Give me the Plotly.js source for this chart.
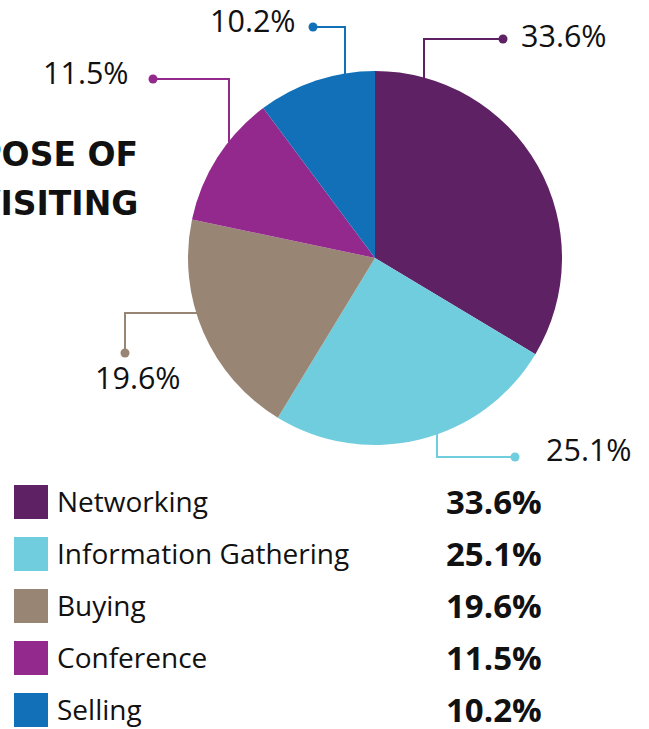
<!DOCTYPE html>
<html>
<head>
<meta charset="utf-8">
<script src="https://cdn.plot.ly/plotly-3.0.1.min.js"></script>
<style>html,body{margin:0;padding:0;background:#fff;}#chart{width:649px;height:729px;}</style>
</head>
<body>
<div id="chart"></div>
<script>
// ---- data ----
const categories = ["Networking", "Information Gathering", "Buying", "Conference", "Selling"];
const values = [33.6, 25.1, 19.6, 11.5, 10.2];
const colors = ["#5e2163", "#6fcddd", "#998574", "#93298d", "#1170b8"];
const titleLines = ["PURPOSE OF", "VISITING"];

// ---- layout helpers (pixel -> paper) ----
const W = 649, H = 729;
const px = x => x / W;
const py = y => 1 - y / H;

// pie geometry
const cx = 375, cy = 258, R = 187;

// leader-line routes (pixels) and label anchor placement, one per category
const leaders = [
  {path: [[424, 80], [424, 39], [503, 39]], label: [519, 35], anchor: "left"},
  {path: [[437, 433], [437, 457], [515, 457]], label: [544, 449], anchor: "left"},
  {path: [[197, 313], [125, 313], [125, 353]], label: [138, 377], anchor: "center"},
  {path: [[229, 142], [229, 79], [153, 79]], label: [131, 72], anchor: "right"},
  {path: [[345, 74], [345, 27], [313, 27]], label: [298, 20], anchor: "right"}
];

const fontFam = "'Open Sans', 'Noto Sans', sans-serif";
const shapes = [];
const annotations = [];

leaders.forEach((l, i) => {
  const d = l.path.map((p, j) => (j ? "L" : "M") + px(p[0]) + "," + py(p[1])).join(" ");
  shapes.push({type: "path", xref: "paper", yref: "paper", path: d,
    line: {color: colors[i], width: 2}});
  const e = l.path[l.path.length - 1], r = 4.5;
  shapes.push({type: "circle", xref: "paper", yref: "paper",
    x0: px(e[0] - r), x1: px(e[0] + r), y0: py(e[1] + r), y1: py(e[1] - r),
    fillcolor: colors[i], line: {width: 0}});
  annotations.push({xref: "paper", yref: "paper", x: px(l.label[0]), y: py(l.label[1]),
    xanchor: l.anchor, yanchor: "middle", showarrow: false,
    text: values[i].toFixed(1) + "%", font: {family: fontFam, size: 30.5, color: "#111"}});
});

// legend table
const rowY0 = 502, rowStep = 52;
categories.forEach((c, i) => {
  const y = rowY0 + i * rowStep;
  shapes.push({type: "rect", xref: "paper", yref: "paper",
    x0: px(14), x1: px(48), y0: py(y + 17), y1: py(y - 17),
    fillcolor: colors[i], line: {width: 0}});
  annotations.push({xref: "paper", yref: "paper", x: px(55), y: py(y - 1), xanchor: "left", yanchor: "middle",
    showarrow: false, text: c, height: 36, font: {family: fontFam, size: 28, color: "#111"}});
  annotations.push({xref: "paper", yref: "paper", x: px(544), y: py(y - 1), xanchor: "right", yanchor: "middle",
    showarrow: false, text: "<b>" + values[i].toFixed(1) + "%</b>", height: 36,
    font: {family: fontFam, size: 33, color: "#111"}});
});

// cropped title (left part falls outside the picture, as in the reference)
titleLines.forEach((t, i) => {
  annotations.push({xref: "paper", yref: "paper", x: px(140), y: py(154 + i * 49.5), xanchor: "right", yanchor: "middle",
    showarrow: false, text: "<b>" + t + "</b>", font: {family: "'DejaVu Sans', sans-serif", size: 33, color: "#111"}});
});

const trace = {
  type: "pie",
  labels: categories,
  values: values,
  sort: false,
  direction: "clockwise",
  rotation: 0,
  marker: {colors: colors, line: {width: 0}},
  textinfo: "none",
  hoverinfo: "label+percent",
  showlegend: false,
  domain: {x: [px(cx - R), px(cx + R)], y: [py(cy + R), py(cy - R)]}
};

const layout = {
  width: W, height: H,
  margin: {l: 0, r: 0, t: 0, b: 0},
  paper_bgcolor: "#fff",
  showlegend: false,
  shapes: shapes,
  annotations: annotations
};

Plotly.newPlot("chart", [trace], layout, {displayModeBar: false, staticPlot: true});
</script>
</body>
</html>
